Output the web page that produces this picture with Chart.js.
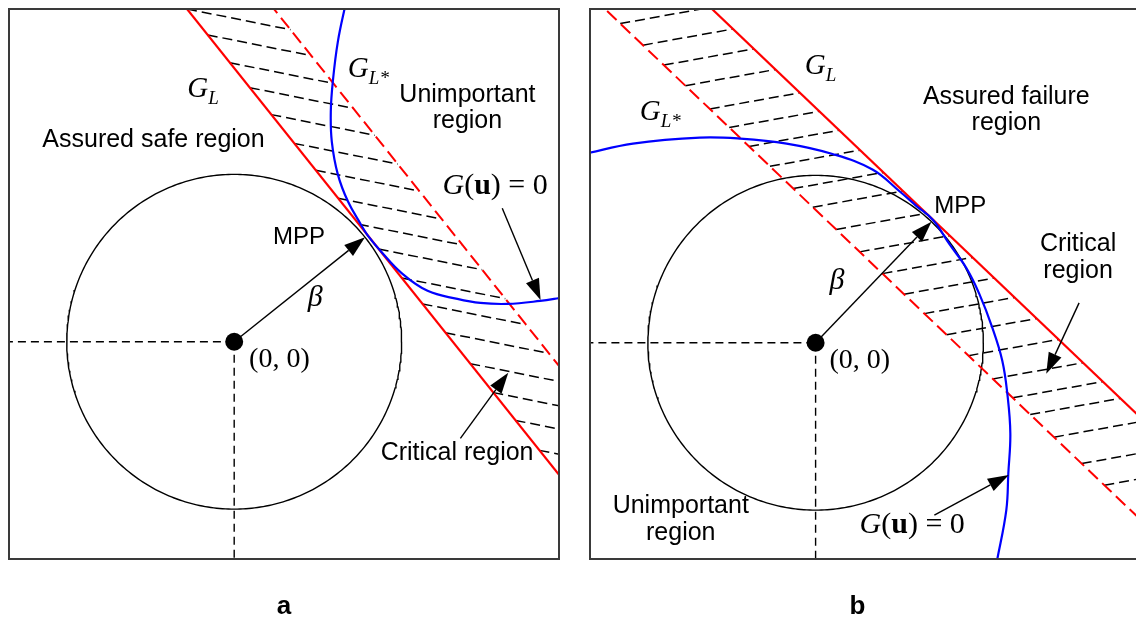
<!DOCTYPE html>
<html>
<head>
<meta charset="utf-8">
<script src="https://cdn.jsdelivr.net/npm/chart.js@4/dist/chart.umd.min.js"></script>
<style>
  html, body { margin: 0; padding: 0; background: #fff; overflow: hidden; width: 1136px; height: 618px; }
  canvas { position: absolute; top: 0; }
  #panelA { left: 0; }
  #panelB { left: 568px; }
</style>
</head>
<body>
<canvas id="panelA" width="568" height="618"></canvas>
<canvas id="panelB" width="582" height="618"></canvas>
<script>
// Standard normal space, lengths in units of the reliability index beta
const beta = 1.0;

// ---- Panel a: linearised surface tangent at the MPP, G_L* shifted outward ----
const aMppAngleDeg = 38.6;       // direction of the MPP from the origin
const aDistGL = 1.02;            // distance of G_L from the origin
const aDistGLstar = 1.426;       // distance of G_L* from the origin
const aHatchY = [1.988, 1.833, 1.667, 1.518, 1.357, 1.185, 1.024, 0.857, 0.702,
                 0.554, 0.381, 0.226, 0.054, -0.131, -0.304, -0.470, -0.649];
const aHatchSlope = -0.2;
const aCurveX = [0.668, 0.619, 0.589, 0.577, 0.583, 0.619, 0.679, 0.756, 0.797,
                 0.885, 1.0, 1.155, 1.333, 1.470, 1.631, 1.827, 1.96];
const aCurveY = [2.03, 1.792, 1.554, 1.375, 1.196, 1.0, 0.839, 0.702, 0.636,
                 0.53, 0.41, 0.304, 0.256, 0.232, 0.226, 0.244, 0.264];

// ---- Panel b: linearised surface tangent at the MPP, G_L* shifted inward ----
const bMppAngleDeg = 46.3;
const bDistGL = 1.015;
const bDistGLstar = 0.574;
const bHatchY = [1.907, 1.778, 1.659, 1.536, 1.397, 1.286, 1.173, 1.054, 0.921,
                 0.810, 0.677, 0.543, 0.413, 0.290, 0.174, 0.048, -0.077, -0.216,
                 -0.329, -0.429, -0.564, -0.722, -0.851];
const bHatchSlope = 0.18;
const bCurveX = [-1.37, -1.089, -0.690, -0.452, -0.173, 0.101, 0.339, 0.5, 0.6, 0.70,
                 0.798, 0.899, 0.976, 1.054, 1.113, 1.143, 1.161, 1.149, 1.137, 1.08];
const bCurveY = [1.13, 1.190, 1.226, 1.220, 1.190, 1.128, 1.035, 0.905, 0.818, 0.733,
                 0.589, 0.446, 0.292, 0.089, -0.107, -0.304, -0.542, -0.780, -1.0, -1.31];

const RED = '#ff0000', BLUE = '#0000ff', INK = '#000000';
const SERIF = '"Liberation Serif", "Times New Roman", serif';
const SANS = '"Liberation Sans", Arial, Helvetica, sans-serif';

function rad(deg) { return deg * Math.PI / 180; }

// Straight line x*cos(t) + y*sin(t) = dist, sampled at two heights
function straightLine(angleDeg, dist) {
  const c = Math.cos(rad(angleDeg)), s = Math.sin(rad(angleDeg));
  return [3, -3].map(y => ({ x: (dist - y * s) / c, y }));
}

// Hatch segments from one parallel line to the other
function hatchSegments(angleDeg, dFrom, dTo, slope, ys) {
  const c = Math.cos(rad(angleDeg)), s = Math.sin(rad(angleDeg));
  const k = (dTo - dFrom) / (c + slope * s);
  return ys.map(y0 => {
    const x0 = (dFrom - y0 * s) / c;
    return [{ x: x0, y: y0 }, { x: x0 + k, y: y0 + slope * k }];
  });
}

function circlePoints(r) {
  const pts = [];
  for (let i = 0; i <= 360; i++) {
    const t = rad(i);
    pts.push({ x: r * Math.cos(t), y: r * Math.sin(t) });
  }
  return pts;
}

function curve(xs, ys) { return xs.map((x, i) => ({ x, y: ys[i] })); }

function mppPoint(angleDeg) {
  return [beta * Math.cos(rad(angleDeg)), beta * Math.sin(rad(angleDeg))];
}

function buildDatasets(p) {
  const ds = [];
  ds.push({ data: [{ x: 0, y: 0 }], showLine: false, pointRadius: 9, pointBackgroundColor: INK, pointBorderWidth: 0 });
  ds.push({ data: curve(p.curveX, p.curveY), borderColor: BLUE, borderWidth: 2.2, tension: 0.4 });
  ds.push({ data: straightLine(p.angle, p.distGL), borderColor: RED, borderWidth: 2.2 });
  ds.push({ data: straightLine(p.angle, p.distGLstar), borderColor: RED, borderWidth: 2, borderDash: [13, 6] });
  ds.push({ data: circlePoints(beta), borderColor: INK, borderWidth: 1.4 });
  hatchSegments(p.angle, p.hatchFrom, p.hatchTo, p.hatchSlope, p.hatchY).forEach(seg => {
    ds.push({ data: seg, borderColor: INK, borderWidth: 1.5, borderDash: [10, 5] });
  });
  ds.push({ data: [{ x: -3, y: 0 }, { x: 0, y: 0 }], borderColor: INK, borderWidth: 1.4, borderDash: [8, 5] });
  ds.push({ data: [{ x: 0, y: 0 }, { x: 0, y: -3 }], borderColor: INK, borderWidth: 1.4, borderDash: [8, 5] });
  ds.forEach(d => {
    d.showLine = d.showLine !== false;
    if (d.pointRadius === undefined) d.pointRadius = 0;
    d.fill = false;
    if (d.tension === undefined) d.tension = 0;
  });
  return ds;
}

// Rich text: sequence of runs with their own font and vertical shift
function drawRuns(ctx, runs, x, y, align) {
  let w = 0;
  runs.forEach(r => { ctx.font = r.font; r.w = ctx.measureText(r.t).width; w += r.w; });
  let cx = align === 'center' ? x - w / 2 : x;
  runs.forEach(r => {
    ctx.font = r.font;
    ctx.fillText(r.t, cx, y + (r.dy || 0));
    cx += r.w;
  });
}

const GL = (star) => [
  { t: 'G', font: 'italic 29px ' + SERIF },
  { t: star ? 'L*' : 'L', font: 'italic 19px ' + SERIF, dy: 7 }
];
const GU = [
  { t: 'G', font: 'italic 30px ' + SERIF },
  { t: '(', font: '30px ' + SERIF },
  { t: 'u', font: 'bold 30px ' + SERIF },
  { t: ')', font: '30px ' + SERIF },
  { t: ' = 0', font: '30px ' + SERIF }
];
const sans = (t, size) => [{ t, font: (size || 25) + 'px ' + SANS }];

const diagramPlugin = {
  id: 'diagram',
  afterDatasetsDraw(chart, args, opts) {
    const { ctx, chartArea: a, scales } = chart;
    const X = v => scales.x.getPixelForValue(v), Y = v => scales.y.getPixelForValue(v);
    ctx.save();
    // arrows
    ctx.strokeStyle = INK; ctx.fillStyle = INK; ctx.lineWidth = 1.4;
    opts.arrows.forEach(ar => {
      const x0 = X(ar.from[0]), y0 = Y(ar.from[1]), x1 = X(ar.to[0]), y1 = Y(ar.to[1]);
      const L = Math.hypot(x1 - x0, y1 - y0), ux = (x1 - x0) / L, uy = (y1 - y0) / L;
      const head = 21, half = 7;
      const bx = x1 - ux * head, by = y1 - uy * head;
      ctx.beginPath(); ctx.moveTo(x0, y0); ctx.lineTo(bx, by); ctx.stroke();
      ctx.beginPath();
      ctx.moveTo(x1, y1);
      ctx.lineTo(bx - uy * half, by + ux * half);
      ctx.lineTo(bx + uy * half, by - ux * half);
      ctx.closePath(); ctx.fill();
    });
    // frame
    ctx.strokeStyle = '#3a3a3a'; ctx.lineWidth = 2;
    ctx.strokeRect(a.left, a.top, a.right - a.left, a.bottom - a.top);
    // labels
    ctx.fillStyle = INK; ctx.textBaseline = 'alphabetic';
    opts.labels.forEach(l => drawRuns(ctx, l.runs, X(l.at[0]), Y(l.at[1]), l.align));
    ctx.restore();
  }
};

function makePanel(id, p, padding, arrows, labels) {
  return new Chart(document.getElementById(id), {
    type: 'scatter',
    data: { datasets: buildDatasets(p) },
    options: {
      responsive: false,
      animation: false,
      devicePixelRatio: 1,
      layout: { padding },
      events: [],
      plugins: { legend: { display: false }, tooltip: { enabled: false }, diagram: { arrows, labels } },
      scales: {
        x: { type: 'linear', min: p.xMin, max: p.xMax, display: false },
        y: { type: 'linear', min: p.yMin, max: p.yMax, display: false }
      }
    },
    plugins: [diagramPlugin]
  });
}

makePanel('panelA', {
  angle: aMppAngleDeg, distGL: aDistGL, distGLstar: aDistGLstar,
  hatchFrom: aDistGL, hatchTo: aDistGLstar, hatchSlope: aHatchSlope, hatchY: aHatchY,
  curveX: aCurveX, curveY: aCurveY,
  xMin: -1.345, xMax: 1.94, yMin: -1.298, yMax: 1.988
}, { left: 7, top: 7, right: 9, bottom: 59 }, [
  { from: [0, 0], to: mppPoint(aMppAngleDeg) },
  { from: [1.601, 0.798], to: [1.83, 0.25] },
  { from: [1.351, -0.577], to: [1.637, -0.185] }
], [
  { runs: GL(false), at: [-0.28, 1.464] },
  { runs: GL(true), at: [0.679, 1.583] },
  { runs: sans('Assured safe region'), at: [-0.482, 1.161], align: 'center' },
  { runs: sans('Unimportant'), at: [1.393, 1.435], align: 'center' },
  { runs: sans('region'), at: [1.393, 1.280], align: 'center' },
  { runs: GU, at: [1.244, 0.881] },
  { runs: sans('MPP', 24), at: [0.232, 0.583] },
  { runs: [{ t: 'β', font: 'italic 30px ' + SERIF }], at: [0.44, 0.214] },
  { runs: [{ t: '(0, 0)', font: '28px ' + SERIF }], at: [0.089, -0.149] },
  { runs: sans('Critical region'), at: [0.875, -0.708] },
  { runs: [{ t: 'a', font: 'bold 26px ' + SANS }], at: [0.298, -1.625], align: 'center' }
]);

makePanel('panelB', {
  angle: bMppAngleDeg, distGL: bDistGL, distGLstar: bDistGLstar,
  hatchFrom: bDistGLstar, hatchTo: bDistGL, hatchSlope: bHatchSlope, hatchY: bHatchY,
  curveX: bCurveX, curveY: bCurveY,
  xMin: -1.345, xMax: 1.94, yMin: -1.292, yMax: 1.994
}, { left: 22, top: 7, right: 8, bottom: 59 }, [
  { from: [0, 0], to: mppPoint(bMppAngleDeg) },
  { from: [1.571, 0.238], to: [1.375, -0.185] },
  { from: [0.708, -1.03], to: [1.152, -0.79] }
], [
  { runs: GL(false), at: [-0.065, 1.607] },
  { runs: GL(true), at: [-1.048, 1.333] },
  { runs: sans('Assured failure'), at: [1.137, 1.429], align: 'center' },
  { runs: sans('region'), at: [1.137, 1.274], align: 'center' },
  { runs: sans('MPP', 24), at: [0.708, 0.774] },
  { runs: sans('Critical'), at: [1.565, 0.548], align: 'center' },
  { runs: sans('region'), at: [1.565, 0.387], align: 'center' },
  { runs: [{ t: 'β', font: 'italic 30px ' + SERIF }], at: [0.083, 0.32] },
  { runs: [{ t: '(0, 0)', font: '28px ' + SERIF }], at: [0.083, -0.149] },
  { runs: sans('Unimportant'), at: [-0.804, -1.018], align: 'center' },
  { runs: sans('region'), at: [-0.804, -1.179], align: 'center' },
  { runs: GU, at: [0.262, -1.137] },
  { runs: [{ t: 'b', font: 'bold 26px ' + SANS }], at: [0.25, -1.619], align: 'center' }
]);
</script>
</body>
</html>
